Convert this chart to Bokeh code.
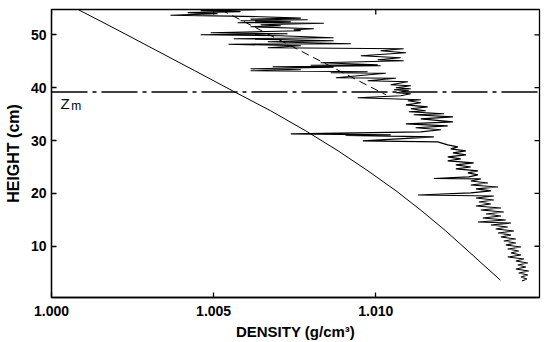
import math
from bokeh.plotting import figure
from bokeh.models import Range1d, FixedTicker, PrintfTickFormatter, Label, Span
from bokeh.embed import file_html
from bokeh.resources import INLINE

meas_density = [
    1.00630, 1.00460, 1.00583, 1.00420, 1.00512, 1.00367, 1.00552, 1.00645, 1.00769, 1.00614,
    1.00790, 1.00583, 1.00738, 1.00574, 1.00840, 1.00645, 1.00707, 1.00614, 1.00809, 1.00747,
    1.00769, 1.00491, 1.00728, 1.00460, 1.00707, 1.00870, 1.00562, 1.00870, 1.00667, 1.00923,
    1.00546, 1.00769, 1.00667, 1.01086, 1.01015, 1.01093, 1.00954, 1.01077, 1.01006, 1.01086,
    1.00830, 1.01006, 1.00799, 1.01015, 1.00682, 1.00870, 1.00614, 1.00769, 1.00614, 1.00975,
    1.00861, 1.01031, 1.00877, 1.01062, 1.00975, 1.01099, 1.01046, 1.01108, 1.01062, 1.01108,
    1.01056, 1.01102, 1.01062, 1.01108, 1.01077, 1.00944, 1.01139, 1.01099, 1.01139, 1.01093,
    1.01160, 1.01108, 1.01154, 1.01102, 1.01210, 1.01117, 1.01238, 1.01139, 1.01238, 1.01093,
    1.01222, 1.01123, 1.01201, 1.01139, 1.00738, 1.01046, 1.00907, 1.01179, 1.00960, 1.01191,
    1.01222, 1.01253, 1.01231, 1.01278, 1.01238, 1.01278, 1.01222, 1.01262, 1.01222, 1.01302,
    1.01247, 1.01293, 1.01247, 1.01315, 1.01284, 1.01315, 1.01287, 1.01179, 1.01324, 1.01293,
    1.01346, 1.01293, 1.01377, 1.01309, 1.01355, 1.01293, 1.01130, 1.01364, 1.01309, 1.01364,
    1.01318, 1.01355, 1.01309, 1.01386, 1.01324, 1.01395, 1.01340, 1.01386, 1.01330, 1.01401,
    1.01315, 1.01417, 1.01355, 1.01407, 1.01370, 1.01426, 1.01377, 1.01417, 1.01386, 1.01432,
    1.01395, 1.01432, 1.01401, 1.01448, 1.01407, 1.01441, 1.01417, 1.01448, 1.01407, 1.01457,
    1.01432, 1.01469, 1.01438, 1.01463, 1.01432, 1.01472, 1.01441, 1.01469, 1.01448, 1.01466,
    1.01451,
]
meas_height = [
    54.77, 54.58, 54.39, 54.20, 54.01, 53.72, 53.54, 53.44, 53.16, 52.97,
    52.87, 52.68, 52.49, 52.30, 52.21, 51.92, 51.73, 51.54, 51.17, 50.98,
    50.79, 50.41, 50.22, 50.03, 49.84, 49.46, 49.27, 48.89, 48.70, 48.32,
    48.22, 47.94, 47.56, 47.38, 47.00, 46.62, 46.05, 45.67, 45.29, 45.10,
    44.72, 44.34, 44.24, 44.15, 43.96, 43.87, 43.59, 43.40, 43.21, 43.02,
    42.83, 42.73, 41.88, 41.79, 41.31, 41.12, 40.55, 40.36, 39.98, 39.80,
    39.61, 39.42, 39.04, 38.85, 38.47, 38.09, 37.71, 37.52, 37.14, 36.76,
    36.38, 36.01, 35.63, 35.44, 35.06, 34.87, 34.49, 34.11, 33.54, 33.16,
    32.78, 32.41, 32.03, 31.65, 31.27, 31.08, 30.98, 30.70, 29.94, 29.75,
    29.18, 28.80, 28.43, 28.05, 27.67, 27.29, 26.91, 26.53, 26.15, 25.77,
    25.39, 25.01, 24.64, 24.26, 23.88, 23.50, 23.12, 22.83, 22.74, 22.36,
    21.98, 21.60, 21.22, 20.85, 20.47, 20.09, 19.71, 19.52, 19.14, 18.76,
    18.38, 18.00, 17.62, 17.24, 16.87, 16.49, 16.11, 15.73, 15.35, 14.97,
    14.59, 14.40, 14.02, 13.64, 13.27, 12.89, 12.51, 12.13, 11.75, 11.37,
    10.99, 10.61, 10.23, 9.85, 9.48, 9.10, 8.72, 8.34, 7.96, 7.58,
    7.20, 6.82, 6.44, 6.06, 5.69, 5.31, 4.93, 4.55, 4.17, 3.79,
    3.41,
]

# Smooth (model) density profile
model_density = [1.00083, 1.00208, 1.00325, 1.00442, 1.00558, 1.00676, 1.00784,
                 1.00884, 1.00976, 1.01063, 1.01142, 1.01216, 1.01302, 1.01384]
model_height = [54.77, 50.79, 47.00, 43.21, 39.42, 35.63, 31.84,
                28.05, 24.26, 20.47, 16.68, 12.89, 8.15, 3.60]

# Dashed straight line
dash_density = [1.00522, 1.01031]
dash_height = [54.77, 38.66]

# Mixed-layer height Z_m
zm_height = 39.2

x_ticks = [1.000, 1.005, 1.010]
y_ticks = [10, 20, 30, 40, 50]
x_lim = (1.0, 1.01505)
y_lim = (0.3, 54.8)

FONT = "Liberation Sans"

p = figure(width=544, height=342, output_backend="svg", toolbar_location=None,
           x_range=Range1d(*x_lim), y_range=Range1d(*y_lim),
           min_border_left=51, min_border_right=5, min_border_top=9, min_border_bottom=45,
           background_fill_color="white", border_fill_color="white")
p.grid.visible = False
p.outline_line_color = "black"
p.outline_line_width = 1.3

p.line(model_density, model_height, line_color="black", line_width=1.0)
p.line(dash_density, dash_height, line_color="black", line_width=1.0, line_dash="8 5")
p.line(meas_density, meas_height, line_color="black", line_width=1.1)

p.add_layout(Span(location=zm_height, dimension="width", line_color="black",
                  line_width=1.6, line_dash="36 5 4 5"))

p.add_layout(Label(x=1.00028, y=zm_height - 2.2, text="Z", text_font=FONT,
                   text_font_size="15px", text_baseline="alphabetic", text_color="black"))
p.add_layout(Label(x=1.00061, y=zm_height - 2.7, text="m", text_font=FONT,
                   text_font_size="12px", text_baseline="alphabetic", text_color="black"))

# inward mirror ticks on the right and top edges (clipped to the frame)
p.scatter(x=[x_lim[1]] * len(y_ticks), y=y_ticks, marker="dash", size=10,
          line_color="black", line_width=1.3)
p.scatter(x=x_ticks, y=[y_lim[1]] * len(x_ticks), marker="dash", angle=math.pi / 2,
          size=10, line_color="black", line_width=1.3)

xa = p.xaxis[0]
ya = p.yaxis[0]
xa.ticker = FixedTicker(ticks=x_ticks)
xa.formatter = PrintfTickFormatter(format="%.3f")
ya.ticker = FixedTicker(ticks=y_ticks)
xa.axis_label = "DENSITY (g/cm³)"
ya.axis_label = "HEIGHT (cm)"
for ax in (xa, ya):
    ax.major_tick_in = 5
    ax.major_tick_out = 0
    ax.minor_tick_in = 0
    ax.minor_tick_out = 0
    ax.axis_line_width = 1.3
    ax.major_tick_line_width = 1.3
    ax.major_label_text_font = FONT
    ax.major_label_text_font_style = "bold"
    ax.major_label_text_font_size = "14px"
    ax.major_label_text_color = "black"
    ax.axis_label_text_font = FONT
    ax.axis_label_text_font_style = "bold"
    ax.axis_label_text_color = "black"
xa.axis_label_text_font_size = "15px"
ya.axis_label_text_font_size = "16px"
xa.major_label_standoff = 8
ya.major_label_standoff = 5
xa.axis_label_standoff = 4
ya.axis_label_standoff = 6

open("out.html", "w").write(file_html(p, INLINE))
